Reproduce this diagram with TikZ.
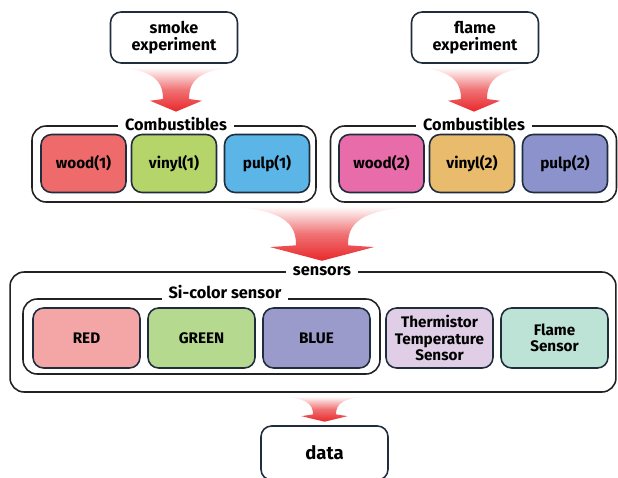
\documentclass[tikz,border=0pt]{standalone}
\usepackage{fontspec}
\setmainfont{Fira Sans}[BoldFont={* Bold}]
\usetikzlibrary{calc}

\definecolor{edge}{HTML}{1F2D3D}
\definecolor{frame}{HTML}{222222}
\definecolor{arrowred}{HTML}{E8282B}
\definecolor{woodA}{HTML}{EF6B6B}
\definecolor{vinylA}{HTML}{B5D56A}
\definecolor{pulpA}{HTML}{5BB5E6}
\definecolor{woodB}{HTML}{E86BAA}
\definecolor{vinylB}{HTML}{E8BC6C}
\definecolor{pulpB}{HTML}{8C93CC}
\definecolor{redS}{HTML}{F4A6A6}
\definecolor{greenS}{HTML}{B5D98F}
\definecolor{blueS}{HTML}{9B9BCB}
\definecolor{thermS}{HTML}{E0CDE6}
\definecolor{flameS}{HTML}{BDE3D6}

\tikzset{
  box/.style={draw=edge, line width=0.9pt, rounded corners=6pt, align=center,
    inner sep=0pt, font=\fontsize{8.7}{9.4}\selectfont\bfseries},
  topbox/.style={box, fill=white, minimum width=2.54cm, minimum height=1.02cm,
    font=\fontsize{9.2}{9.4}\selectfont\bfseries},
  fuel/.style={box, minimum width=1.7cm, minimum height=1.16cm},
  sensor/.style={box, minimum width=2.14cm, minimum height=1.2cm},
  group/.style={draw=frame, line width=0.9pt, rounded corners=8pt, inner sep=0pt},
  grouplabel/.style={fill=white, inner xsep=4pt, inner ysep=1pt,
    font=\fontsize{9.3}{10}\selectfont\bfseries},
  funnelfill/.style={top color=white, bottom color=arrowred,
    middle color=arrowred!65!white}
}

% wide faded arrow: from node #1 down to node #2, top half width #3, head half width #4
\newcommand\funnel[4]{%
  \shade[funnelfill] let \p1=(#1.south), \p2=(#2.north), \n1={#3}, \n2={#4},
      \n3={\y2+0.28*(\y1-\y2)} in
    ({\x2-\n1*1pt},{\y1-2pt})
      .. controls ({\x2-0.3*\n1*1pt},{\y1-2pt}) and ({\x2-0.5*\n2*1pt},{0.5*\n3*1pt+0.5*\y1}) ..
    ({\x2-0.5*\n2*1pt},{\n3*1pt+1pt}) -- ({\x2-\n2*1pt},{\n3*1pt}) -- (\x2,{\y2+2pt})
    -- ({\x2+\n2*1pt},{\n3*1pt}) -- ({\x2+0.5*\n2*1pt},{\n3*1pt+1pt})
      .. controls ({\x2+0.5*\n2*1pt},{0.5*\n3*1pt+0.5*\y1}) and ({\x2+0.3*\n1*1pt},{\y1-2pt}) ..
    ({\x2+\n1*1pt},{\y1-2pt}) -- cycle;
}

\begin{document}
\begin{tikzpicture}[x=0.02cm, y=-0.02cm]
\useasboundingbox (0,0) rectangle (618,477);

% experiments
\node[topbox] (smoke) at (174,37.5) {smoke\\experiment};
\node[topbox] (flame) at (475,37.5) {flame\\experiment};

% combustible groups
\node[group, minimum width=5.68cm, minimum height=1.52cm] (comb1) at (174,164) {};
\node[grouplabel] (lab1) at (176,124) {Combustibles};
\node[fuel, fill=woodA]  (wood1)  at (83.5,163.5) {wood(1)};
\node[fuel, fill=vinylA] (vinyl1) at (174,163.5) {vinyl(1)};
\node[fuel, fill=pulpA]  (pulp1)  at (267,163.5) {pulp(1)};

\node[group, minimum width=5.72cm, minimum height=1.52cm] (comb2) at (473.5,164) {};
\node[grouplabel] (lab2) at (474,124) {Combustibles};
\node[fuel, fill=woodB]  (wood2)  at (381.5,163.5) {wood(2)};
\node[fuel, fill=vinylB] (vinyl2) at (472,163.5) {vinyl(2)};
\node[fuel, fill=pulpB]  (pulp2)  at (565,163.5) {pulp(2)};

% sensors
\node[group, minimum width=12.12cm, minimum height=2.4cm] (sens) at (313,332) {};
\node[grouplabel] (sensl) at (322,271) {sensors};
\node[group, minimum width=7.14cm, minimum height=1.5cm] (sicol) at (201.5,336.5) {};
\node[grouplabel] (sicoll) at (225,292) {Si-color sensor};
\node[sensor, fill=redS]   (red)   at (86.5,338)  {RED};
\node[sensor, fill=greenS] (green) at (201.5,338) {GREEN};
\node[sensor, fill=blueS]  (blue)  at (316.5,338) {BLUE};
\node[sensor, fill=thermS] (therm) at (439.5,338) {Thermistor\\Temperature\\Sensor};
\node[sensor, fill=flameS] (flm)   at (554.5,338) {Flame\\Sensor};

% result
\node[box, minimum width=2.54cm, minimum height=1.08cm,
  font=\fontsize{10.5}{12}\selectfont\bfseries] (data) at (324.5,453) {data};

% arrows
\funnel{smoke}{lab1}{1.4cm}{0.52cm}
\funnel{flame}{lab2}{1.4cm}{0.52cm}
\funnel{comb1}{sensl}{2.3cm}{1.04cm}
\funnel{sens}{data}{1.1cm}{0.46cm}

\end{tikzpicture}
\end{document}
